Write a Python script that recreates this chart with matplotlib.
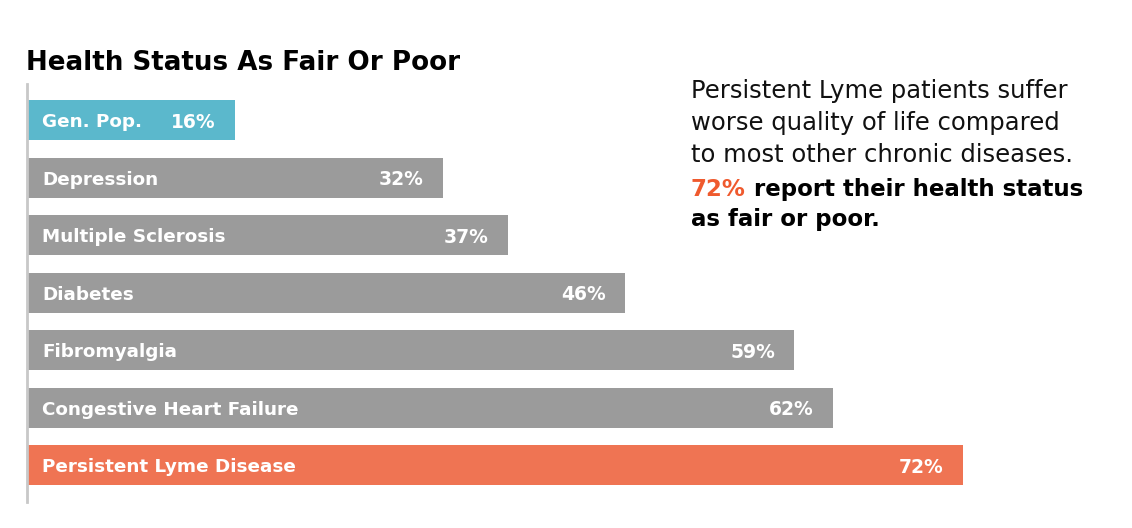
import matplotlib
matplotlib.use("Agg")
import matplotlib.pyplot as plt

categories = ["Gen. Pop.", "Depression", "Multiple Sclerosis", "Diabetes",
              "Fibromyalgia", "Congestive Heart Failure", "Persistent Lyme Disease"]
values = [16, 32, 37, 46, 59, 62, 72]
value_labels = ["16%", "32%", "37%", "46%", "59%", "62%", "72%"]
bar_colors = ["#5BB8CC", "#9B9B9B", "#9B9B9B", "#9B9B9B", "#9B9B9B", "#9B9B9B", "#EF7453"]

title = "Health Status As Fair Or Poor"
note_lines = ["Persistent Lyme patients suffer",
              "worse quality of life compared",
              "to most other chronic diseases."]
note_highlight = "72%"
note_bold_rest = " report their health status"
note_bold_last = "as fair or poor."

W, H = 1132, 528
fig = plt.figure(figsize=(W / 100, H / 100), dpi=100)
fig.patch.set_facecolor("white")

FONT = "DejaVu Sans"

ax_left, ax_top, ax_bottom = 27, 84, 502
px_per_unit = 13.0
ax_w = 1040
ax = fig.add_axes([ax_left / W, 1 - ax_bottom / H, ax_w / W, (ax_bottom - ax_top) / H])
ax.set_xlim(0, ax_w / px_per_unit)
ax.set_ylim(6.64, -0.626)

pos = list(range(len(categories)))
ax.barh(pos, values, height=0.696, color=bar_colors, edgecolor="none")

for p, c, v, lab in zip(pos, categories, values, value_labels):
    ax.annotate(c, xy=(0, p), xytext=(15, 0), textcoords="offset pixels",
                ha="left", va="center_baseline", color="white", fontsize=13.2,
                fontweight="bold", family=FONT)
    ax.annotate(lab, xy=(v, p), xytext=(-19, 0), textcoords="offset pixels",
                ha="right", va="center_baseline", color="white", fontsize=13.5,
                fontweight="bold", family=FONT)

for s in ["top", "right", "bottom"]:
    ax.spines[s].set_visible(False)
ax.spines["left"].set_color("#C8C8C8")
ax.spines["left"].set_linewidth(2)
ax.set_xticks([])
ax.set_yticks([])

fig.text(26 / W, 1 - 70 / H, title, ha="left", va="baseline", fontsize=18.8,
         fontweight="bold", color="black", family=FONT)

x0 = 691 / W
baselines = [98, 130, 162, 196, 226]
for line, b in zip(note_lines, baselines[:3]):
    fig.text(x0, 1 - b / H, line, ha="left", va="baseline", fontsize=17.5,
             color="#111111", family=FONT)
t72 = fig.text(x0, 1 - baselines[3] / H, note_highlight, ha="left", va="baseline",
               fontsize=16.5, fontweight="bold", color="#EF5A2E", family=FONT)
ax.annotate(note_bold_rest, xy=(1, 0), xycoords=t72, xytext=(0, 0),
            textcoords="offset pixels", ha="left", va="bottom",
            fontsize=16.5, fontweight="bold", color="black", family=FONT,
            annotation_clip=False)
fig.text(x0, 1 - baselines[4] / H, note_bold_last, ha="left", va="baseline",
         fontsize=16.5, fontweight="bold", color="black", family=FONT)

fig.savefig("out.png", dpi=100, facecolor="white")
